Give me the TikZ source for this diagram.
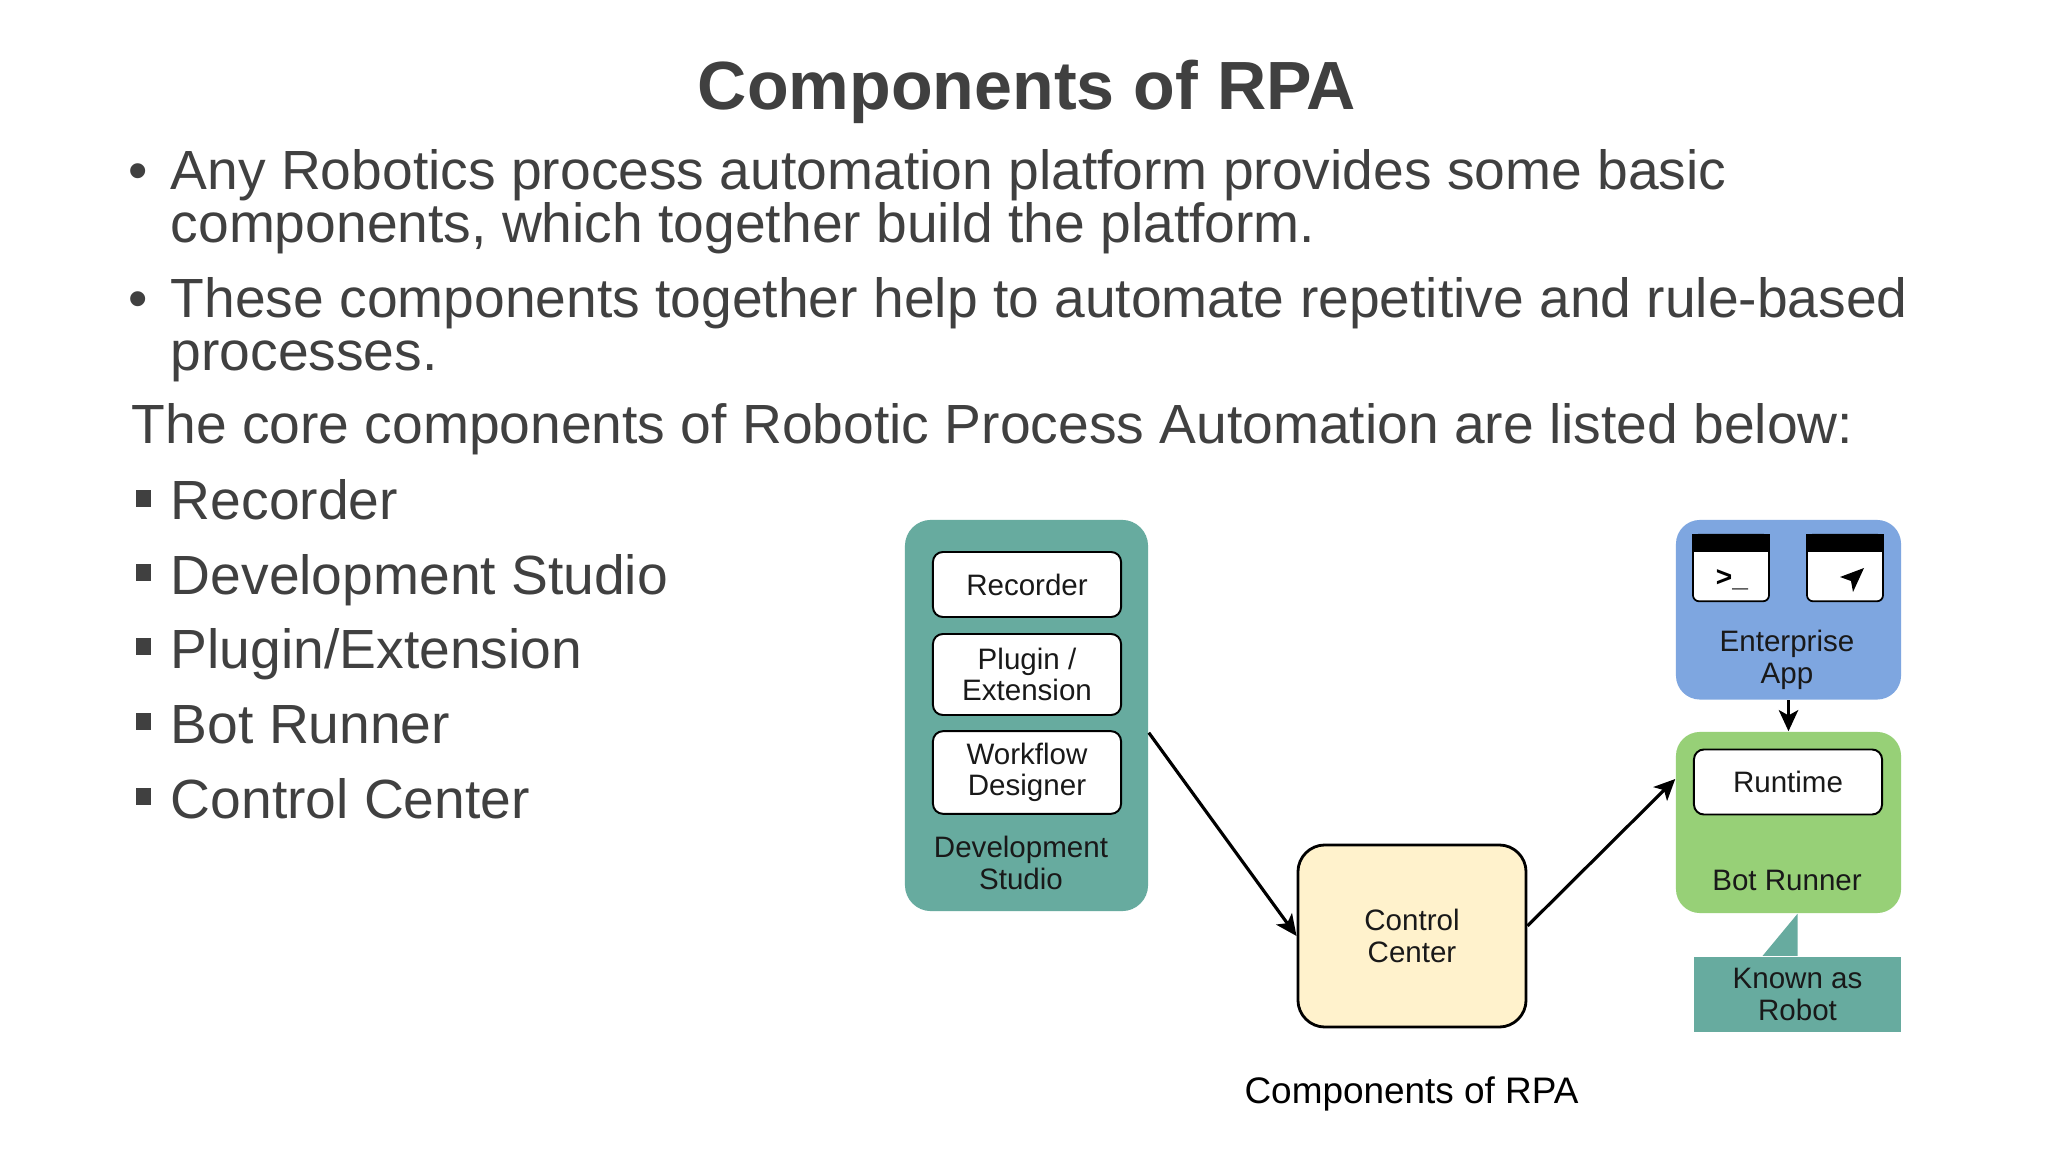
\documentclass[tikz,border=0pt]{standalone}
\usepackage{fontspec}
\setmainfont{Liberation Sans}
\usetikzlibrary{arrows.meta, positioning, calc}
\definecolor{slidegray}{RGB}{64, 64, 64}
\definecolor{devteal}{RGB}{103, 171, 159}
\definecolor{entblue}{RGB}{126, 166, 224}
\definecolor{botgreen}{RGB}{151, 208, 119}
\definecolor{ccyellow}{RGB}{255, 242, 204}
\newcommand{\sqmark}{\rule[3.7pt]{4.3pt}{4.8pt}\hspace{5.7pt}}
\newcommand{\diagfont}{\fontsize{8.4}{9}\selectfont}

\begin{document}
\begin{tikzpicture}[x=0.01cm, y=-0.01cm,
    bodytext/.style={font=\fontsize{15.7}{18}\selectfont, text=slidegray, inner sep=0pt, anchor=base west},
    inbox/.style={draw=black, line width=0.55pt, fill=white, rounded corners=0.1cm, minimum width=1.88cm, align=center, font=\diagfont, text=black!90},
    grouplbl/.style={align=center, font=\diagfont, text=black!90, inner sep=0pt},
    winbox/.style={draw=black, line width=0.5pt, fill=white, rounded corners=0.06cm, minimum width=0.76cm, minimum height=0.665cm, inner sep=0pt},
    flow/.style={-{Stealth[length=6pt, width=5.5pt, inset=1.5pt]}, line width=0.9pt}]
  \useasboundingbox (0,0) rectangle (2048,1152);
  \fill[white] (0,0) rectangle (2048,1152);

  % Slide title and text
  \node[font=\bfseries\fontsize{19.4}{22}\selectfont, text=slidegray, inner sep=0pt, anchor=base] (title) at (1027,110) {Components of RPA};
  \node[bodytext] (dot1) at (128,190) {\textbullet};
  \node[bodytext] (line1) at (170,190) {Any Robotics process automation platform provides some basic};
  \node[bodytext] (line2) at (170,243) {components, which together build the platform.};
  \node[bodytext] (dot2) at (128,318) {\textbullet};
  \node[bodytext] (line3) at (170,318) {These components together help to automate repetitive and rule-based};
  \node[bodytext] (line4) at (170,371) {processes.};
  \node[bodytext] (line5) at (131,444) {The core components of Robotic Process Automation are listed below:};
  \node[bodytext] (item1) at (135,520) {\sqmark Recorder};
  \node[bodytext] (item2) at (135,594) {\sqmark Development Studio};
  \node[bodytext] (item3) at (135,668) {\sqmark Plugin/Extension};
  \node[bodytext] (item4) at (135,743) {\sqmark Bot Runner};
  \node[bodytext] (item5) at (135,818) {\sqmark Control Center};

  % Development Studio group
  \node[fill=devteal, rounded corners=0.26cm, minimum width=2.43cm, minimum height=3.91cm] (dev) at (1026.5,715.5) {};
  \node[inbox, minimum height=0.65cm] (rec) at (1027,584.5) {Recorder};
  \node[inbox, minimum height=0.81cm] (plug) at (1027,674.5) {Plugin /\\Extension};
  \node[inbox, minimum height=0.81cm] (wf) at (1027,772.5) {Workflow\\Designer};
  \node[grouplbl] (devlbl) at (1021,863) {Development\\Studio};

  % Control Center
  \node[draw=black, line width=0.8pt, fill=ccyellow, rounded corners=0.27cm, minimum width=2.28cm, minimum height=1.82cm, align=center, font=\diagfont, text=black!90] (cc) at (1412,936) {Control\\Center};

  % Enterprise App
  \node[fill=entblue, rounded corners=0.24cm, minimum width=2.25cm, minimum height=1.795cm] (ent) at (1788.5,609.75) {};
  \node[winbox] (term) at (1731,568) {};
  \fill[black] (term.north west) rectangle ($(term.north east)+(0,18)$);
  \node[font=\bfseries\fontsize{8}{8}\selectfont, inner sep=0pt] (prompt) at (1732,580) {>\_};
  \node[winbox] (gui) at (1845,568) {};
  \fill[black] (gui.north west) rectangle ($(gui.north east)+(0,18)$);
  \fill[black] (1864,568) -- (1840,577) -- (1851,581) -- (1853,592) -- cycle;
  \node[grouplbl] (entlbl) at (1787,660) {Enterprise\\App};

  % Bot Runner
  \node[fill=botgreen, rounded corners=0.24cm, minimum width=2.25cm, minimum height=1.81cm] (bot) at (1788.5,822.5) {};
  \node[inbox, minimum height=0.65cm] (rt) at (1788,782) {Runtime};
  \node[grouplbl] (botlbl) at (1787,880) {Bot Runner};

  % Callout
  \node[fill=devteal, minimum width=2.07cm, minimum height=0.65cm, align=center, font=\diagfont, text=black!90] (robot) at (1797.5,994.5) {Known as\\Robot};
  \fill[devteal] (robot.north) -- ++(-35,0) -- (robot.north |- bot.south) -- cycle;

  % Connectors
  \draw[flow] (dev.-8) -- (cc.west);
  \draw[flow] (cc.5) -- (bot.159);
  \draw[flow] (ent.south) -- (bot.north);

  \node[font=\fontsize{10.5}{12}\selectfont, inner sep=0pt, anchor=base] (caption) at (1411.5,1103) {Components of RPA};
\end{tikzpicture}
\end{document}
